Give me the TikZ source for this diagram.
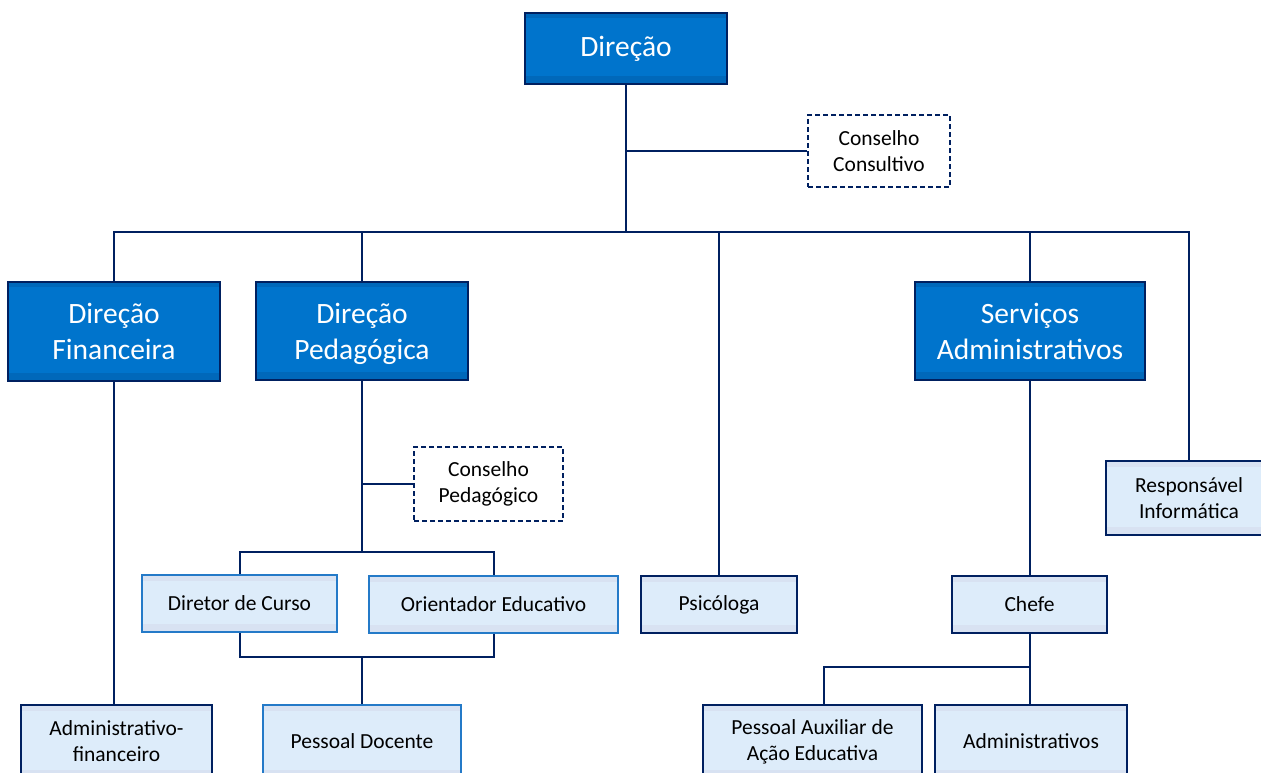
\documentclass[tikz,border=0pt]{standalone}
\usepackage{fontspec}
\setmainfont{Carlito}
\definecolor{navy}{RGB}{0,32,96}
\definecolor{mainblue}{RGB}{0,116,204}
\definecolor{bandblue}{RGB}{0,104,186}
\definecolor{lightfill}{RGB}{221,236,250}
\definecolor{lightband}{RGB}{216,226,242}
\definecolor{midblue}{RGB}{36,122,200}
\tikzset{
  conn/.style={draw=navy, line width=2pt},
  bands/.style 2 args={path picture={
     \fill[#1] (path picture bounding box.north west) rectangle ([yshift=-#2]path picture bounding box.north east);
     \fill[#1] (path picture bounding box.south west) rectangle ([yshift=8pt]path picture bounding box.south east);}},
  bigbox/.style={draw=navy, line width=2.6pt, fill=mainblue, bands={bandblue}{5pt}, text=white,
     font=\fontsize{29.5}{36}\selectfont, align=center, inner sep=0pt},
  lightbox/.style={draw=navy, line width=2.4pt, fill=lightfill, bands={lightband}{6pt}, text=black,
     font=\fontsize{21.5}{26}\selectfont, align=center, inner sep=0pt},
  lightbox2/.style={lightbox, draw=midblue},
  dashbox/.style={draw=navy, line width=2pt, dash pattern=on 5pt off 3pt, fill=white, text=black,
     font=\fontsize{21.5}{26}\selectfont, align=center, inner sep=0pt},
}
\begin{document}
\begin{tikzpicture}[x=1pt,y=-1pt]
\useasboundingbox (0,0) rectangle (1261,772);
\clip (0,0) rectangle (1261,772);
\fill[white] (0,0) rectangle (1261,772);

% nodes
\node[bigbox, minimum width=202pt, minimum height=71pt] (dir) at (626,48.5) {Direção};
\node[dashbox, minimum width=142pt, minimum height=72pt] (cc) at (879,151) {Conselho\\Consultivo};
\node[bigbox, minimum width=212pt, minimum height=99pt] (dfin) at (114,331.5) {\raisebox{0pt}[0pt][0pt]{}Direção\\Financeira};
\node[bigbox, minimum width=212pt, minimum height=98pt, text depth=0pt] (dped) at (362,331) {Direção\\Pedagógica};
\node[bigbox, minimum width=230pt, minimum height=98pt] (serv) at (1030,331) {Serviços\\Administrativos};
\node[dashbox, minimum width=149pt, minimum height=74pt] (cped) at (488.5,484) {Conselho\\Pedagógico};
\node[lightbox, minimum width=166pt, minimum height=74pt] (resp) at (1189,498) {Responsável\\Informática};
\node[lightbox2, minimum width=195pt, minimum height=57pt] (dcur) at (239.5,603.5) {Diretor de Curso};
\node[lightbox2, minimum width=249pt, minimum height=57pt] (orient) at (493.5,604.5) {Orientador Educativo};
\node[lightbox, minimum width=156pt, minimum height=57pt] (psic) at (719,604.5) {Psicóloga};
\node[lightbox, minimum width=155pt, minimum height=57pt] (chefe) at (1029.5,604.5) {Chefe};
\node[lightbox, minimum width=191pt, minimum height=73pt] (admfin) at (116.5,741.5) {Administrativo-\\financeiro};
\node[lightbox2, minimum width=198pt, minimum height=73pt] (pdoc) at (362,741.5) {Pessoal Docente};
\node[lightbox, minimum width=219pt, minimum height=73pt] (paux) at (812.5,741.5) {Pessoal Auxiliar de\\Ação Educativa};
\node[lightbox, minimum width=192pt, minimum height=73pt] (adms) at (1031,741.5) {Administrativos};

% junction coordinates
\coordinate (bus) at (626,232);
\coordinate (pedj) at (362,552);
\coordinate (pedlow) at (362,657);
\coordinate (chj) at (1029.5,667);
\coordinate (pauxj) at (824,667);

% connectors
\draw[conn] (dir.south) -- (bus);
\draw[conn] (dir.south |- cc.west) -- (cc.west);
\draw[conn] (dfin.north) -- (dfin.north |- bus) -- (resp.north |- bus) -- (resp.north);
\draw[conn] (dped.north |- bus) -- (dped.north);
\draw[conn] (psic.north |- bus) -- (psic.north);
\draw[conn] (serv.north |- bus) -- (serv.north);
\draw[conn] (dfin.south) -- (dfin.south |- admfin.north);
\draw[conn] (dped.south) -- (pedj);
\draw[conn] (dped.south |- cped.west) -- (cped.west);
\draw[conn] (dcur.north) -- (dcur.north |- pedj) -- (orient.north |- pedj) -- (orient.north);
\draw[conn] (dcur.south) -- (dcur.south |- pedlow) -- (orient.south |- pedlow) -- (orient.south);
\draw[conn] (pedlow) -- (pdoc.north);
\draw[conn] (chefe.north |- serv.south) -- (chefe.north);
\draw[conn] (chefe.south) -- (chj);
\draw[conn] (pauxj |- paux.north) -- (pauxj) -- (chj) -- (chj |- adms.north);
\end{tikzpicture}
\end{document}
